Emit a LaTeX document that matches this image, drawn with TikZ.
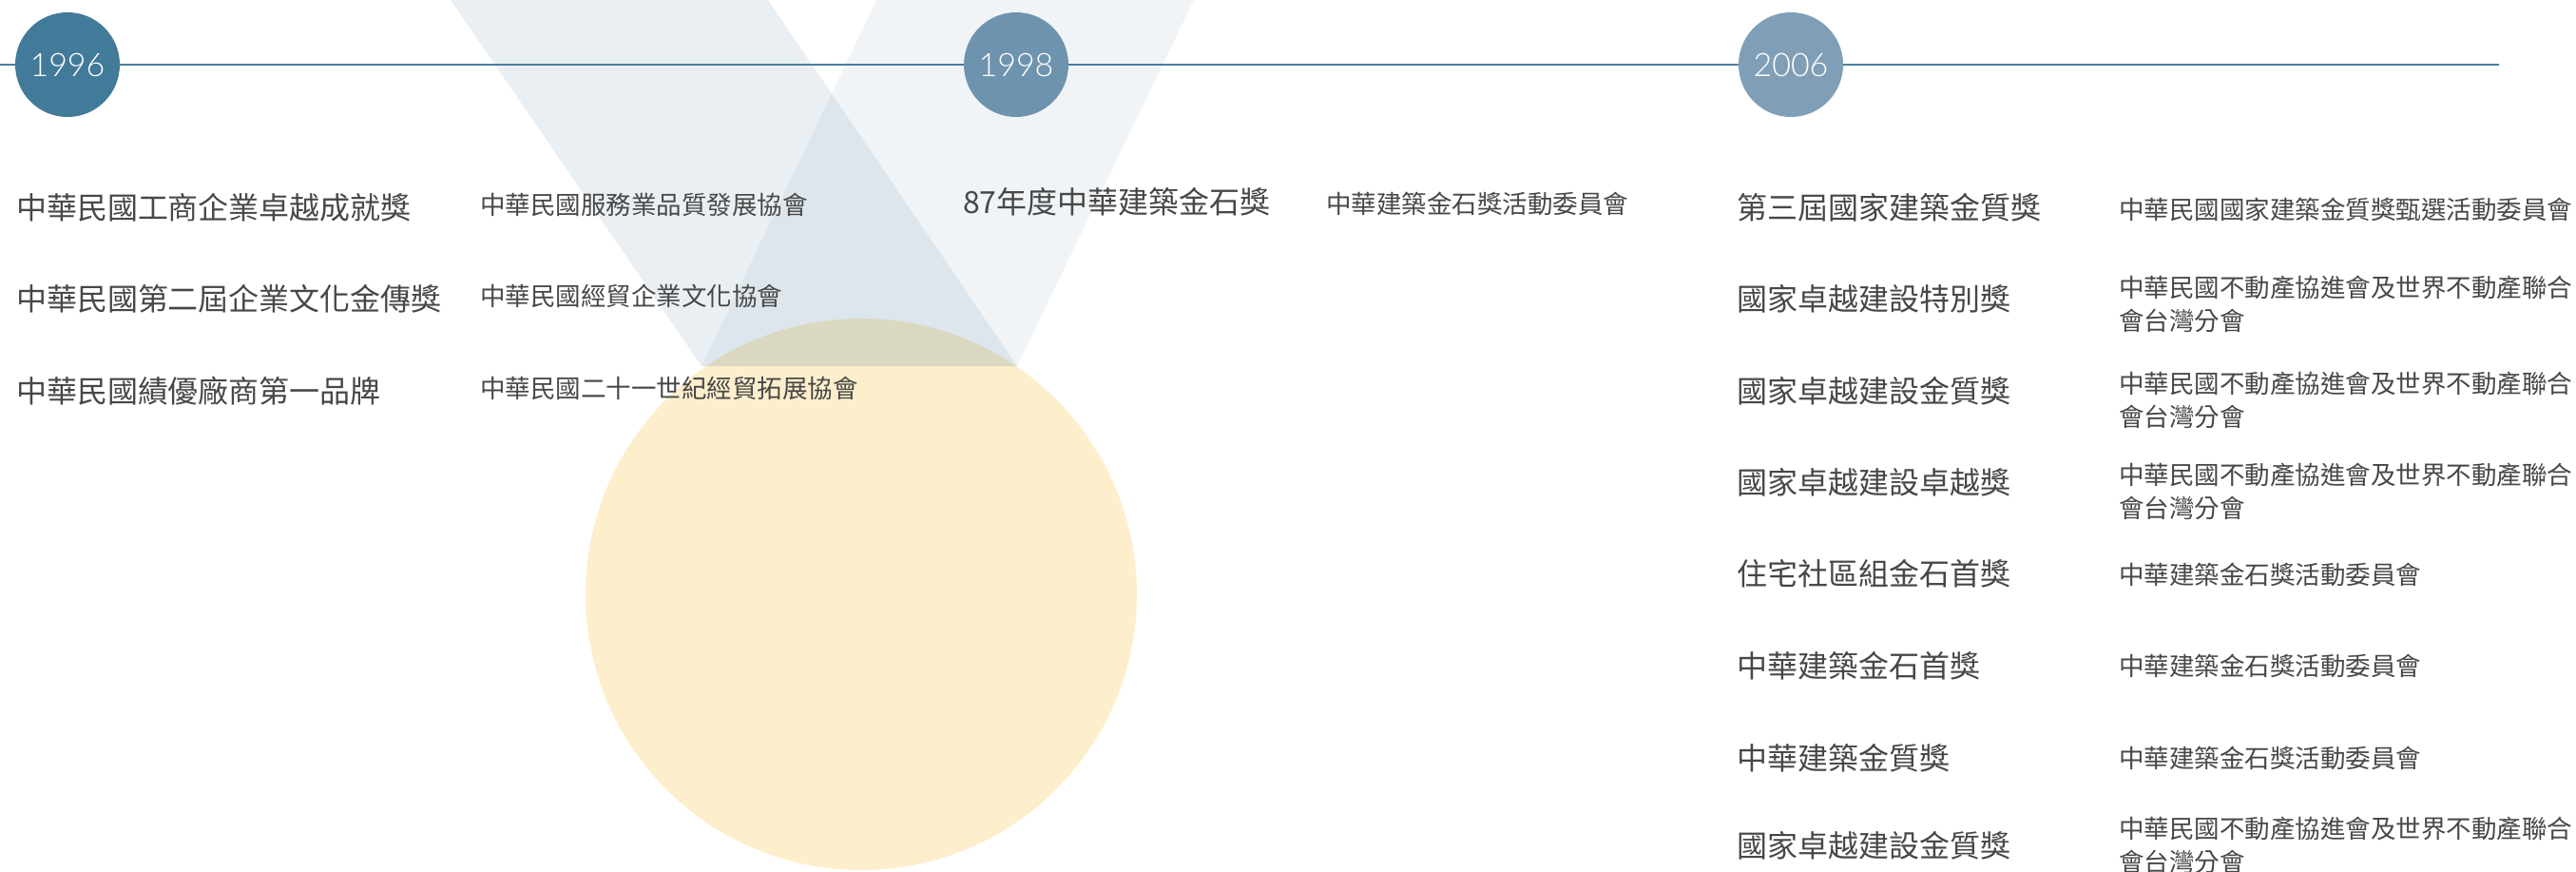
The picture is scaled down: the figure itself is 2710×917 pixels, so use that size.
\documentclass[tikz,border=0pt]{standalone}
\usepackage{fontspec}
\setmainfont{Noto Sans CJK TC}
\newfontfamily\yearfont{Lato Light}
\definecolor{txt}{HTML}{474747}
\definecolor{tlcol}{HTML}{4A7E9E}
\definecolor{bandcol}{HTML}{3E7091}
\definecolor{medalcol}{HTML}{FDEFCC}
\definecolor{yA}{HTML}{427A9A}
\definecolor{yB}{HTML}{6E93AE}
\definecolor{yC}{HTML}{809FB7}
\tikzset{
  big/.style={font=\fontsize{32}{38}\selectfont, text=txt, anchor=west, inner sep=0pt, outer sep=0pt},
  small/.style={font=\fontsize{26.5}{35}\selectfont, text=txt, anchor=west, inner sep=0pt, outer sep=0pt, align=left},
  yearc/.style={circle, minimum size=110pt, inner sep=0pt, text=white, font=\yearfont\fontsize{34}{36}\selectfont},
  tl/.style={draw=tlcol, line width=2pt},
}
\begin{document}
\begin{tikzpicture}[x=1pt,y=-1pt]
\useasboundingbox (0,0) rectangle (2710,917);
% medal
\fill[medalcol] (906,625) circle[radius=290];
% ribbons
\fill[bandcol, fill opacity=0.11] (474,0) -- (808,0) -- (1070,385) -- (738,385) -- cycle;
\fill[bandcol, fill opacity=0.075] (922,0) -- (1256,0) -- (1070,385) -- (738,385) -- cycle;
% timeline
\coordinate (tls) at (0,68);
\coordinate (tle) at (2629,68);
\draw[tl] (tls) -- (tle);
\node[yearc, fill=yA] (y1996) at (71,68) {1996};
\node[yearc, fill=yB] (y1998) at (1069,68) {1998};
\node[yearc, fill=yC] (y2006) at (1884,68) {2006};
% 1996 column
\node[big] (a1) at (17,218) {中華民國工商企業卓越成就獎};
\node[big] (a2) at (17,314) {中華民國第二屆企業文化金傳獎};
\node[big] (a3) at (17,411) {中華民國績優廠商第一品牌};
\node[small] (b1) at (505,215) {中華民國服務業品質發展協會};
\node[small] (b2) at (505,311) {中華民國經貿企業文化協會};
\node[small] (b3) at (505,408) {中華民國二十一世紀經貿拓展協會};
% 1998 column
\node[big] (c1) at (1013,212) {87年度中華建築金石獎};
\node[small] (d1) at (1395,214) {中華建築金石獎活動委員會};
% 2006 column
\node[big] (e1) at (1827,218) {第三屆國家建築金質獎};
\node[big] (e2) at (1827,314) {國家卓越建設特別獎};
\node[big] (e3) at (1827,411) {國家卓越建設金質獎};
\node[big] (e4) at (1827,507) {國家卓越建設卓越獎};
\node[big] (e5) at (1827,603) {住宅社區組金石首獎};
\node[big] (e6) at (1827,700) {中華建築金石首獎};
\node[big] (e7) at (1827,797) {中華建築金質獎};
\node[big] (e8) at (1827,889) {國家卓越建設金質獎};
\node[small] (f1) at (2229,220) {中華民國國家建築金質獎甄選活動委員會};
\node[small] (f2) at (2229,320) {中華民國不動產協進會及世界不動產聯合\\會台灣分會};
\node[small] (f3) at (2229,421) {中華民國不動產協進會及世界不動產聯合\\會台灣分會};
\node[small] (f4) at (2229,517) {中華民國不動產協進會及世界不動產聯合\\會台灣分會};
\node[small] (f5) at (2229,604) {中華建築金石獎活動委員會};
\node[small] (f6) at (2229,700) {中華建築金石獎活動委員會};
\node[small] (f7) at (2229,797) {中華建築金石獎活動委員會};
\node[small] (f8) at (2229,889) {中華民國不動產協進會及世界不動產聯合\\會台灣分會};
\end{tikzpicture}
\end{document}
